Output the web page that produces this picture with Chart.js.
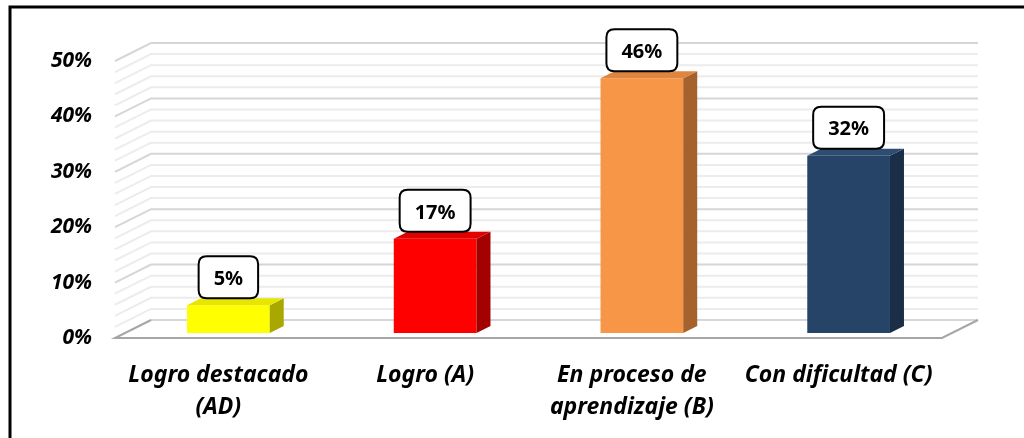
<!DOCTYPE html>
<html>
<head>
<meta charset="utf-8">
<script src="https://cdn.jsdelivr.net/npm/chart.js@4.4.1/dist/chart.umd.min.js"></script>
<style>
html, body { margin: 0; padding: 0; background: #fff; }
#wrap { width: 1024px; height: 438px; }
</style>
</head>
<body>
<div id="wrap"><canvas id="chart" width="1024" height="438"></canvas></div>
<script>
// datos del gráfico
var categories = [['Logro destacado', '(AD)'], 'Logro (A)', ['En proceso de', 'aprendizaje (B)'], 'Con dificultad (C)'];
var values = [5, 17, 46, 32];
var tickLabels = ['0%', '10%', '20%', '30%', '40%', '50%'];

// colores de cada barra: frente, tapa y lado
var frontColors = ['#FFFF00', '#FF0000', '#F79646', '#264468'];
var topColors = ['#E6E600', '#E00000', '#DE8540', '#2E4D73'];
var sideColors = ['#A8A800', '#A30000', '#A5622C', '#1B2E47'];

var FONT = '"Noto Sans", "DejaVu Sans", sans-serif';
var DEPTH = { x: 36, y: -18 };      // profundidad de las paredes
var BAR_SHIFT = { x: 10, y: -5 };   // la barra está un poco detrás del borde frontal
var BAR_DEPTH = { x: 14, y: -7 };   // profundidad de la barra

function line(ctx, pts) {
    ctx.beginPath();
    ctx.moveTo(pts[0][0], pts[0][1]);
    for (var i = 1; i < pts.length; i++) ctx.lineTo(pts[i][0], pts[i][1]);
    ctx.stroke();
}

function poly(ctx, pts, color) {
    ctx.beginPath();
    ctx.moveTo(pts[0][0], pts[0][1]);
    for (var i = 1; i < pts.length; i++) ctx.lineTo(pts[i][0], pts[i][1]);
    ctx.closePath();
    ctx.fillStyle = color;
    ctx.fill();
}

function roundRect(ctx, x, y, w, h, r) {
    ctx.beginPath();
    ctx.moveTo(x + r, y);
    ctx.lineTo(x + w - r, y);
    ctx.quadraticCurveTo(x + w, y, x + w, y + r);
    ctx.lineTo(x + w, y + h - r);
    ctx.quadraticCurveTo(x + w, y + h, x + w - r, y + h);
    ctx.lineTo(x + r, y + h);
    ctx.quadraticCurveTo(x, y + h, x, y + h - r);
    ctx.lineTo(x, y + r);
    ctx.quadraticCurveTo(x, y, x + r, y);
    ctx.closePath();
}

var box3d = {
    id: 'box3d',
    beforeDraw: function(chart) {
        var ctx = chart.ctx;
        ctx.save();
        ctx.fillStyle = '#fff';
        ctx.fillRect(0, 0, chart.width, chart.height);
        ctx.strokeStyle = '#000';
        ctx.lineWidth = 3;
        ctx.strokeRect(10, 7, chart.width + 20, chart.height + 20);
        ctx.restore();
    },
    beforeDatasetsDraw: function(chart) {
        var ctx = chart.ctx;
        var a = chart.chartArea;
        var ys = chart.scales.y;
        ctx.save();
        ctx.lineWidth = 2;
        for (var v = ys.max; v > ys.min; v -= 2) {
            var py = ys.getPixelForValue(v);
            ctx.strokeStyle = v % 10 === 0 ? '#D6D6D6' : '#ECECEC';
            line(ctx, [[a.left, py], [a.left + DEPTH.x, py + DEPTH.y], [a.right + DEPTH.x, py + DEPTH.y]]);
        }
        var b = ys.getPixelForValue(0);
        ctx.strokeStyle = '#D6D6D6';
        line(ctx, [[a.left + DEPTH.x, b + DEPTH.y], [a.right + DEPTH.x, b + DEPTH.y]]);
        ctx.strokeStyle = '#A6A6A6';
        line(ctx, [[a.left + DEPTH.x, b + DEPTH.y], [a.left, b], [a.right, b], [a.right + DEPTH.x, b + DEPTH.y]]);
        ctx.restore();

        ctx.save();
        ctx.translate(BAR_SHIFT.x, BAR_SHIFT.y);
    },
    afterDatasetsDraw: function(chart) {
        var ctx = chart.ctx;
        ctx.restore();
        var meta = chart.getDatasetMeta(0);
        ctx.save();
        meta.data.forEach(function(bar, i) {
            var p = bar.getProps(['x', 'y', 'base', 'width'], true);
            var l = p.x - p.width / 2 + BAR_SHIFT.x;
            var r = p.x + p.width / 2 + BAR_SHIFT.x;
            var t = p.y + BAR_SHIFT.y;
            var bt = p.base + BAR_SHIFT.y;
            var dx = BAR_DEPTH.x, dy = BAR_DEPTH.y;
            poly(ctx, [[r, t], [r + dx, t + dy], [r + dx, bt + dy], [r, bt]], sideColors[i]);
            poly(ctx, [[l, t], [l + dx, t + dy], [r + dx, t + dy], [r, t]], topColors[i]);

            // etiqueta de datos
            var txt = values[i] + '%';
            ctx.font = 'bold 20px ' + FONT;
            var tw = ctx.measureText(txt).width;
            var bw = tw + 30, bh = 42;
            var cx = (l + r) / 2;
            var by = t + dy - bh;
            roundRect(ctx, cx - bw / 2, by, bw, bh, 8);
            ctx.fillStyle = '#fff';
            ctx.fill();
            ctx.lineWidth = 2;
            ctx.strokeStyle = '#000';
            ctx.stroke();
            ctx.fillStyle = '#000';
            ctx.textAlign = 'center';
            ctx.textBaseline = 'middle';
            ctx.fillText(txt, cx, by + bh / 2 + 2);
        });
        ctx.restore();
    }
};

new Chart(document.getElementById('chart'), {
    type: 'bar',
    data: {
        labels: categories,
        datasets: [{
            data: values,
            backgroundColor: frontColors,
            borderWidth: 0,
            categoryPercentage: 0.4,
            barPercentage: 1,
            clip: false
        }]
    },
    options: {
        responsive: false,
        animation: false,
        devicePixelRatio: 1,
        layout: { padding: { top: 61, right: 82, left: 0, bottom: 0 } },
        plugins: {
            legend: { display: false },
            tooltip: { enabled: false }
        },
        scales: {
            x: {
                grid: { display: false, drawTicks: false },
                border: { display: false },
                afterFit: function(s) { s.height = 100; },
                ticks: {
                    padding: 21,
                    maxRotation: 0,
                    autoSkip: false,
                    color: '#000',
                    font: { family: FONT, size: 23, weight: 'bold', style: 'italic', lineHeight: '32px' }
                }
            },
            y: {
                min: 0,
                max: 50,
                grid: { display: false, drawTicks: false },
                border: { display: false },
                afterFit: function(s) { s.width = 115; },
                ticks: {
                    stepSize: 10,
                    padding: 23,
                    color: '#000',
                    font: { family: FONT, size: 21, weight: 'bold', style: 'italic' },
                    callback: function(v) { return tickLabels[v / 10]; }
                }
            }
        }
    },
    plugins: [box3d]
});
</script>
</body>
</html>
